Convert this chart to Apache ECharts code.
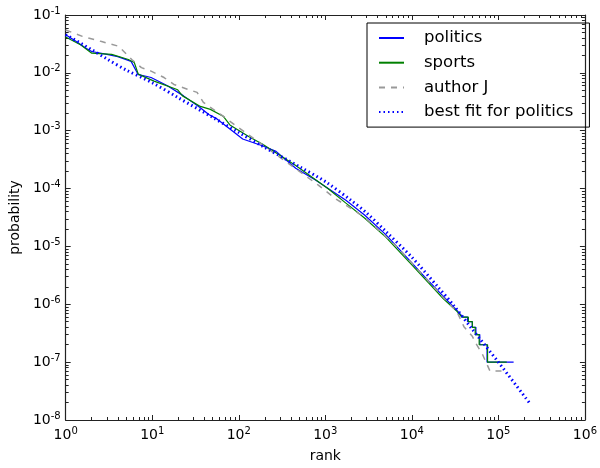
<!DOCTYPE html>
<html>
<head>
<meta charset="utf-8">
<script src="https://cdn.jsdelivr.net/npm/echarts@6/dist/echarts.min.js"></script>
<style>
html, body { margin: 0; padding: 0; background: #fff; }
#chart { width: 600px; height: 468px; }
</style>
</head>
<body>
<div id="chart"></div>
<script>
// values (log-log rank / probability)
const politicsRank = [1, 1.3, 1.7, 2, 3, 4, 5.7, 6.9, 8, 9.7, 15, 23, 36, 45, 56, 79, 111, 187, 270, 455, 770, 1170, 1730, 2840, 5000, 10000, 14000, 23000, 33000,
  39000, 44000, 44000, 50000, 50000, 55000, 55000, 61000, 61000, 74000, 74000, 150000];
const politicsProb = [0.0457, 0.0355, 0.0269, 0.0234, 0.0209, 0.0191, 0.0158, 0.0093, 0.0089, 0.0083, 0.0060, 0.0040, 0.0025, 0.0019, 0.0016, 0.00107, 0.00072, 0.00055, 0.00044, 0.000224, 0.000141, 9.3e-5, 6.3e-5, 3.5e-5, 1.6e-5, 5.2e-6, 3.0e-6, 1.38e-6, 7.9e-7,
  6e-7, 6e-7, 5e-7, 5e-7, 4e-7, 4e-7, 3e-7, 3e-7, 2e-7, 2e-7, 1e-7, 1e-7];

const sportsRank = [1, 1.5, 2, 3.4, 5.3, 6.2, 6.9, 10.5, 19.7, 22.4, 36, 47, 66, 79, 133, 187, 455, 1070, 1730, 2840, 5000, 10000, 23000, 33000,
  38000, 45000, 45000, 50000, 50000, 54000, 54000, 60000, 60000, 75000, 75000, 125000];
const sportsProb = [0.0417, 0.0302, 0.0219, 0.0209, 0.0170, 0.0151, 0.0095, 0.0072, 0.0051, 0.0040, 0.00263, 0.00234, 0.00178, 0.00126, 0.00078, 0.00059, 0.000251, 0.000100, 5.6e-5, 3.1e-5, 1.45e-5, 4.8e-6, 1.26e-6, 7.6e-7,
  6e-7, 6e-7, 5e-7, 5e-7, 4e-7, 4e-7, 3e-7, 3e-7, 2e-7, 2e-7, 1e-7, 1e-7];

const authorRank = [1, 1.56, 2.6, 4.1, 5.8, 7.5, 9.7, 13.7, 17.8, 25.5, 33, 39, 66, 94, 240, 590, 830, 1290, 2840, 6770, 23000, 33000, 40000, 50000, 55000, 65000, 80000, 120000];
const authorProb = [0.055, 0.0427, 0.0347, 0.0288, 0.0170, 0.0123, 0.0107, 0.0083, 0.0063, 0.0052, 0.0046, 0.0031, 0.00178, 0.00120, 0.00044, 0.000166, 0.000115, 6.8e-5, 3.2e-5, 9.8e-6, 1.32e-6, 7.6e-7, 4.1e-7, 2.8e-7, 2.1e-7, 1.4e-7, 7e-8, 7e-8];

const fitRank = [1, 2, 3, 5, 10, 20, 50, 100, 200, 500, 1000, 2000, 3000, 5000, 10000, 20000, 30000, 50000, 100000, 230000];
const fitProb = [0.0457, 0.0251, 0.0174, 0.0112, 0.00676, 0.00372, 0.00170, 0.000933, 0.000513, 0.000240, 0.000132, 6.2e-5, 3.8e-5, 1.82e-5, 6.5e-6, 2.0e-6, 9.8e-7, 3.7e-7, 1.0e-7, 1.95e-8];

const seriesNames = ['politics', 'sports', 'author J', 'best fit for politics'];

function pairs(xs, ys) {
  return xs.map((x, i) => [x, ys[i]]);
}

const FONT = 'DejaVu Sans';
const powLabel = function (v) {
  return '10{s|' + Math.round(Math.log10(v)) + '}';
};
const labelRich = {
  s: { fontSize: 10, fontFamily: FONT, color: '#000', verticalAlign: 'top', padding: [0, 0, 8, 0] }
};

function makeAxis(min, max, pos, showLabel, extra) {
  return Object.assign({
    type: 'log',
    logBase: 10,
    min: min,
    max: max,
    position: pos,
    axisLine: { show: true, onZero: false, lineStyle: { color: '#222', width: 1.2 } },
    axisTick: { show: true, inside: true, length: 5, lineStyle: { color: '#222' } },
    minorTick: { show: true, splitNumber: 9, length: 3, lineStyle: { color: '#222' } },
    splitLine: { show: false },
    minorSplitLine: { show: false },
    axisLabel: {
      show: showLabel,
      formatter: powLabel,
      rich: labelRich,
      fontSize: 14,
      fontFamily: FONT,
      color: '#000',
      showMinLabel: true,
      showMaxLabel: true,
      hideOverlap: false
    }
  }, extra || {});
}

const chart = echarts.init(document.getElementById('chart'));
chart.setOption({
  animation: false,
  backgroundColor: '#fff',
  textStyle: { fontFamily: FONT },
  grid: { left: 63, right: 9, top: 15, bottom: 44, containLabel: false },
  legend: {
    orient: 'vertical',
    left: 367,
    top: 23,
    data: seriesNames,
    itemWidth: 25,
    itemHeight: 1,
    itemGap: 4.7,
    padding: [5, 16, 5, 11],
    borderColor: '#000',
    borderWidth: 1,
    itemStyle: { opacity: 0 },
    textStyle: { fontSize: 16.5, lineHeight: 20, fontFamily: FONT, color: '#000', padding: [0, 0, 0, 15] }
  },
  xAxis: [
    makeAxis(1, 1e6, 'bottom', true, {
      name: 'rank', nameLocation: 'middle', nameGap: 29,
      nameTextStyle: { fontSize: 14, fontFamily: FONT, color: '#000' },
      axisLabel: {
        formatter: powLabel, rich: labelRich, fontSize: 14, fontFamily: FONT, color: '#000',
        margin: 6, showMinLabel: true, showMaxLabel: true, hideOverlap: false
      }
    }),
    makeAxis(1, 1e6, 'top', false)
  ],
  yAxis: [
    makeAxis(1e-8, 1e-1, 'left', true, {
      name: 'probability', nameLocation: 'middle', nameGap: 38,
      nameTextStyle: { fontSize: 14, fontFamily: FONT, color: '#000' },
      axisLabel: {
        formatter: powLabel, rich: labelRich, fontSize: 14, fontFamily: FONT, color: '#000',
        margin: 5, showMinLabel: true, showMaxLabel: true, hideOverlap: false
      }
    }),
    makeAxis(1e-8, 1e-1, 'right', false)
  ],
  series: [
    {
      name: seriesNames[0], type: 'line', data: pairs(politicsRank, politicsProb),
      symbol: 'none', lineStyle: { color: '#0000ff', width: 1.2 }, itemStyle: { color: '#0000ff' }
    },
    {
      name: seriesNames[1], type: 'line', data: pairs(sportsRank, sportsProb),
      symbol: 'none', lineStyle: { color: '#008000', width: 1.2 }, itemStyle: { color: '#008000' }
    },
    {
      name: seriesNames[2], type: 'line', data: pairs(authorRank, authorProb),
      symbol: 'none', lineStyle: { color: '#999999', width: 1.5, type: [6, 6] }, itemStyle: { color: '#999999' }
    },
    {
      name: seriesNames[3], type: 'line', data: pairs(fitRank, fitProb),
      symbol: 'none', smooth: 0.3, lineStyle: { color: '#0000ff', width: 3, type: [1.5, 3] }, itemStyle: { color: '#0000ff' }
    }
  ]
});
</script>
</body>
</html>
